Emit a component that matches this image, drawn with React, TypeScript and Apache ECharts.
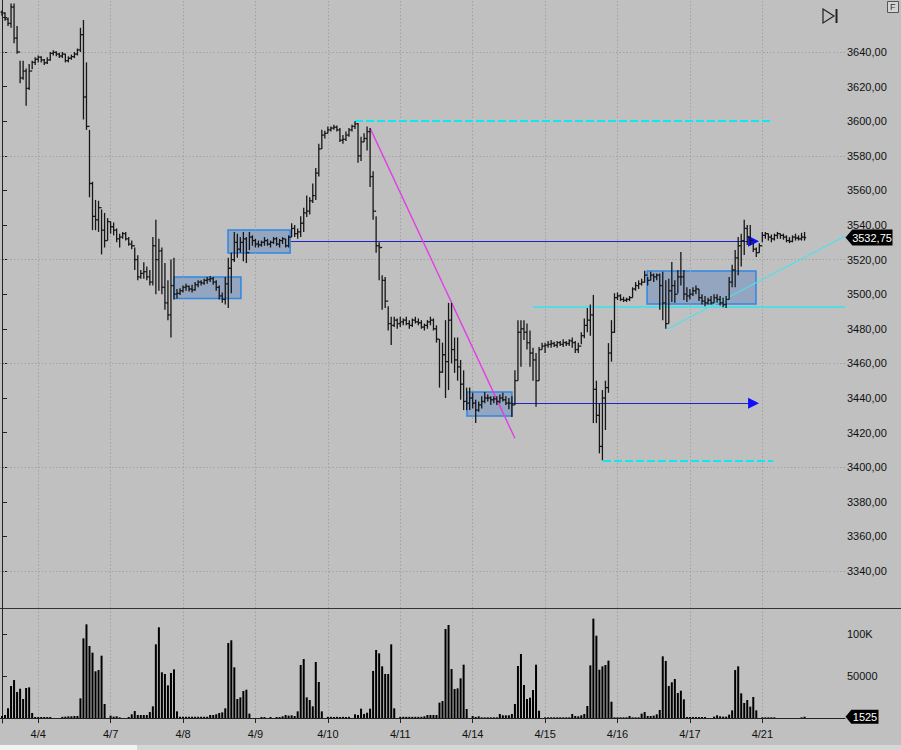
import React, { useEffect, useRef } from 'react';
import * as echarts from 'echarts';

// ---------- axis / calendar ----------
const dayLabels = ['4/4', '4/7', '4/8', '4/9', '4/10', '4/11', '4/14', '4/15', '4/16', '4/17', '4/21'];
const dayStartIndex = [12, 36, 60, 84, 108, 132, 156, 180, 204, 228, 252];
const priceLabelTicks = [3340, 3360, 3380, 3400, 3420, 3440, 3460, 3480, 3500, 3520, 3540, 3560, 3580, 3600, 3620, 3640];
const priceTickMarks = [3340, 3360, 3380, 3400, 3420, 3440, 3460, 3480, 3500, 3520, 3540, 3560, 3580, 3600, 3620, 3640, 3660];
const priceGridLevels = [3340, 3400, 3460, 3520, 3580, 3640];
const volumeTicks = [50000, 100000];
const lastPrice = 3532.75;
const lastVolume = 1525;
const firstOpen = 3663;

// ---------- hourly OHLC (open = previous close) ----------
const highs = [
  // 4/3 tail
  3664, 3663, 3660, 3668, 3668, 3655, 3635, 3635, 3630.5, 3633, 3635, 3637,
  // 4/4
  3638, 3637.5, 3636, 3637, 3640, 3641, 3640.5, 3639.5, 3640, 3639, 3637.5, 3638.5, 3640, 3642, 3654, 3658.5, 3634, 3595, 3565, 3554.5, 3554, 3549, 3547, 3544,
  // 4/7
  3542, 3541.5, 3538, 3535, 3536, 3536, 3533, 3531, 3527, 3522.5, 3514, 3518.5, 3516, 3514, 3533, 3543, 3532, 3527, 3518, 3508, 3520, 3521, 3503, 3503.5,
  // 4/8
  3505, 3506, 3505, 3505.5, 3507, 3508, 3508, 3509, 3510, 3510.5, 3510, 3508, 3505, 3501, 3510, 3521, 3524, 3536, 3535, 3533, 3536, 3533, 3536, 3534,
  // 4/9
  3532, 3531, 3531, 3533, 3532, 3531, 3533, 3533, 3532, 3533, 3532, 3534, 3541, 3540, 3538, 3545, 3550, 3557, 3556, 3564, 3573, 3587, 3595, 3594.5,
  // 4/10
  3597, 3597, 3598, 3597.5, 3596, 3592, 3594, 3596, 3598, 3600, 3599, 3591, 3593, 3597, 3596, 3571, 3545, 3530, 3511, 3510, 3493, 3487, 3487, 3486,
  // 4/11
  3487, 3486, 3487, 3485, 3486, 3487, 3486, 3485, 3483, 3485, 3487, 3486, 3482, 3474, 3472, 3485, 3495, 3495, 3475, 3475, 3462, 3456, 3446, 3446,
  // 4/14
  3443, 3439, 3438, 3441, 3443.5, 3442, 3441, 3441, 3441, 3442, 3443, 3441, 3440, 3441, 3456, 3485, 3485, 3485, 3483, 3479, 3469, 3466, 3469.5, 3472,
  // 4/15
  3472, 3473, 3473.5, 3472.5, 3473, 3473, 3474, 3473, 3474, 3475, 3473, 3472, 3478, 3486, 3492, 3494, 3499.6, 3450, 3437, 3444.6, 3450, 3471.7, 3485, 3500.6,
  // 4/16
  3501, 3500, 3498.5, 3498, 3499, 3504, 3507, 3508, 3509, 3513.6, 3510, 3513, 3512, 3512, 3512, 3513, 3508, 3509, 3518.6, 3508, 3514, 3524.4, 3514, 3504,
  // 4/17
  3503, 3504, 3505, 3503, 3500, 3499, 3498, 3499, 3500, 3500, 3499, 3498, 3499, 3510, 3517, 3525.5, 3533, 3535, 3543, 3540, 3540, 3529.4, 3527, 3529.4,
  // 4/21
  3536, 3536, 3535, 3534.5, 3535, 3536, 3535, 3535, 3534, 3533, 3534, 3535, 3534, 3535.5, 3536,
];
const lows = [
  3661, 3658, 3655, 3654, 3645, 3639, 3622, 3624, 3609, 3618, 3630, 3632.5,
  3634, 3634, 3632.5, 3633, 3635, 3638, 3637.5, 3636.5, 3636.5, 3634, 3634, 3635.5, 3636.5, 3638, 3640, 3601, 3595, 3556, 3537, 3537, 3536, 3523, 3527, 3531,
  3535, 3534, 3530, 3527, 3532, 3531, 3528, 3526, 3514, 3508, 3509, 3509, 3508, 3505, 3505, 3500, 3502, 3500, 3491, 3485, 3475, 3497, 3497.5, 3499.5,
  3501, 3502, 3501.5, 3501, 3502, 3504, 3505, 3505.5, 3506, 3507, 3505.5, 3502, 3497, 3495, 3494, 3492, 3500.5, 3518.6, 3521, 3524, 3519, 3518, 3525.5, 3528,
  3527, 3527, 3527.5, 3528, 3528, 3527, 3529, 3528, 3527, 3529, 3527, 3527, 3533, 3533, 3532, 3533, 3536, 3544.6, 3546, 3552.7, 3554.5, 3568, 3584, 3590,
  3593, 3594, 3595, 3594, 3588, 3587, 3588.5, 3591, 3594, 3595.5, 3576, 3577, 3588, 3583, 3562, 3543, 3524, 3508, 3491, 3492, 3479, 3470.6, 3481, 3480,
  3481, 3482, 3482, 3480, 3481, 3483, 3482, 3480, 3479, 3480, 3482, 3479, 3472, 3446, 3454.5, 3440, 3444.6, 3460, 3454.5, 3450, 3439, 3433, 3433, 3433,
  3434, 3425.5, 3432, 3434, 3437, 3438, 3436, 3437, 3436, 3437, 3438, 3436, 3433.5, 3429, 3436, 3450, 3458, 3473.5, 3468, 3458, 3450, 3435, 3450, 3468,
  3466, 3469, 3469, 3469.5, 3469, 3470, 3469.5, 3470, 3470, 3469, 3466, 3466, 3471, 3474.6, 3478, 3476, 3425.5, 3425.5, 3408, 3404, 3421.5, 3443, 3461, 3477.6,
  3496.6, 3496, 3495.5, 3495.5, 3496, 3498, 3502, 3503, 3505, 3506.6, 3505, 3508, 3507, 3508, 3491, 3485, 3480, 3483, 3495.5, 3495, 3500.6, 3505, 3496.6, 3495.5,
  3497, 3499, 3500, 3496, 3494, 3493, 3494, 3494, 3495, 3495, 3493.5, 3492.5, 3492, 3497, 3504, 3504, 3511, 3516, 3522.6, 3528.4, 3528.4, 3524.4, 3521.5, 3524,
  3530, 3532, 3531, 3530, 3531, 3532, 3532, 3531.5, 3530, 3529.5, 3530, 3531, 3531, 3531, 3531,
];
const closes = [
  3662.5, 3659, 3656.5, 3666, 3648, 3640, 3625, 3629, 3619, 3629, 3634, 3635.8,
  3637, 3635.4, 3633.8, 3635.4, 3639.2, 3639.8, 3638.8, 3637.7, 3638.8, 3635, 3636.4, 3637.3, 3638.8, 3641.2, 3650, 3614, 3597, 3564, 3545, 3543, 3550, 3537, 3531, 3542,
  3539, 3537, 3532, 3533, 3535, 3532, 3529, 3528, 3520, 3510, 3512, 3513, 3510, 3507, 3528, 3520, 3525, 3504, 3495, 3488, 3505, 3500, 3500.5, 3502,
  3504, 3504.5, 3503, 3502.5, 3505.5, 3507, 3506.5, 3508, 3508.5, 3509, 3507, 3504, 3499, 3497, 3506, 3515, 3520, 3530, 3526, 3530, 3532, 3524, 3533, 3531,
  3529, 3528.5, 3530, 3531, 3529, 3530, 3532, 3529, 3531, 3532, 3528, 3533, 3538, 3535, 3536, 3541, 3547, 3548, 3554, 3557, 3570, 3584, 3592, 3593,
  3595, 3596, 3596.5, 3595, 3589, 3589.5, 3592, 3595, 3597, 3598.5, 3580, 3588, 3590, 3594, 3568, 3548, 3528, 3527, 3508, 3496, 3483, 3482, 3485, 3483,
  3484, 3485, 3483, 3482, 3485, 3484, 3483.5, 3481, 3482, 3484, 3485, 3480, 3474, 3455, 3465, 3461, 3485, 3468, 3462, 3458, 3448, 3438, 3437, 3440,
  3437, 3433, 3436, 3438, 3440, 3440, 3439, 3439.5, 3438, 3440, 3439, 3437, 3437, 3436, 3450, 3478, 3480, 3478, 3472, 3466, 3462, 3450, 3468, 3470,
  3470.5, 3471, 3471.5, 3470.5, 3472, 3471, 3472, 3471.5, 3473, 3472, 3468, 3470, 3476, 3482, 3485, 3488, 3445, 3430, 3412, 3440, 3446, 3466, 3478, 3498,
  3499, 3497, 3496.5, 3497, 3498, 3503, 3505, 3506, 3507, 3511, 3508, 3511, 3510, 3511, 3505, 3495, 3483, 3502, 3505, 3500, 3510, 3510, 3500, 3499,
  3500, 3502, 3503, 3498, 3496, 3495, 3496.5, 3495, 3498, 3497, 3495, 3494, 3497, 3507, 3514, 3521, 3528, 3531, 3538, 3533, 3531, 3526, 3524, 3528,
  3534, 3535, 3533, 3532, 3534, 3535, 3534, 3533, 3531, 3530.5, 3533, 3532.5, 3532, 3533, 3532.75,
];

// ---------- hourly volume ----------
const volumes = [
  2400, 3600, 11500, 38100, 45200, 31000, 34900, 22600, 35700, 36500,
  6000, 1200, 1200, 1200, 1200, 1200, 1200, 0, 0, 0,
  1400, 1600, 2000, 2000, 2400, 2400, 23400, 94800, 111500, 85700,
  77800, 55600, 57100, 74200, 16700, 0, 2800, 1600, 2000, 800,
  0, 0, 1200, 4400, 8300, 3600, 3600, 3600, 3600, 7100,
  13900, 87700, 108000, 54400, 52400, 38900, 53600, 57900, 7900, 1500,
  1500, 1500, 1500, 1500, 1500, 1500, 1500, 1500, 1500, 3600,
  3600, 4400, 6000, 6700, 11500, 89300, 92500, 60300, 22600, 24600,
  32100, 33700, 5200, 0, 0, 0, 1200, 1200, 0, 1200,
  0, 1200, 1200, 2000, 3600, 2800, 3200, 2400, 7900, 63100,
  70200, 24600, 21400, 13900, 66700, 42900, 7900, 0, 1400, 1400,
  1200, 1400, 1200, 1400, 1200, 1400, 0, 4400, 3600, 11100,
  4800, 6300, 11100, 56000, 81000, 77000, 61500, 52400, 52400, 87700,
  11500, 0, 1400, 1400, 1400, 1400, 1400, 1400, 1400, 1400,
  2000, 3600, 3600, 3600, 3600, 18300, 20200, 106000, 110700, 58300,
  34500, 35300, 47200, 63500, 10700, 0, 2400, 1200, 2000, 800,
  800, 800, 800, 800, 800, 4800, 3200, 3200, 3200, 4800,
  16700, 61900, 76200, 39300, 22600, 24200, 33300, 63500, 8700, 0,
  800, 800, 800, 800, 800, 800, 800, 800, 800, 4800,
  2400, 2000, 3200, 4800, 14300, 62700, 118300, 98000, 57500, 61500,
  63100, 68300, 19400, 800, 800, 800, 800, 800, 2400, 800,
  800, 800, 5200, 7100, 2400, 2400, 2800, 4400, 9500, 73400,
  67900, 38100, 42500, 46400, 29800, 32500, 22200, 1200, 1200, 1200,
  1200, 1200, 1200, 1200, 0, 0, 1600, 3200, 2000, 1600,
  1600, 4000, 9100, 57100, 61500, 29400, 17900, 21400, 13500, 25000,
  9100, 0, 800, 800, 800, 800, 800, 0, 0, 0,
  0, 0, 0, 0, 0, 800, 1525,
];

// ---------- drawn annotations (bar index, price) ----------
const zoneBoxes = [
  [57.0, 3510.0, 79.2, 3497.5],
  [74.9, 3537.1, 95.5, 3523.8],
  [154.1, 3443.5, 169.0, 3429.6],
  [213.8, 3513.4, 249.9, 3494.3],
];
const arrowLevels = [
  [95.8, 3530.6],
  [169.0, 3437.0],
];
const arrowTipIndex = 250.9;
const arrowHeadIndex = 249.1;
const dashedLevels = [
  [117.0, 255.6, 3600.0],
  [199.2, 255.6, 3403.6],
];
const supportLevel = [176.0, 3492.8];
const trendUp = [[220.4, 3479.7], [279.4, 3533.5]];
const trendDown = [[122.0, 3596.0], [170.0, 3416.7]];

const X_MIN = -0.66;
const X_MAX = 279.4;
const P_MIN = 3318.61;
const P_MAX = 3670.06;
const V_MIN = -5952;
const V_MAX = 129762;

const fmtPrice = (v: number) => v.toFixed(2).replace('.', ',');
const FONT = 'Liberation Sans, Arial, sans-serif';

export default function App() {
  const ref = useRef<HTMLDivElement>(null);

  useEffect(() => {
    if (!ref.current) return;
    const chart = echarts.init(ref.current, null, { renderer: 'svg' });

    const ohlc: number[][] = highs.map((h, i) => [
      i,
      i === 0 ? firstOpen : closes[i - 1],
      h,
      lows[i],
      closes[i],
    ]);
    const volData = volumes.map((v, i) => [i, v]);

    const barColor = '#161616';
    const renderItem = (params: any, api: any) => {
      const i = api.value(0);
      const o = api.value(1);
      const h = api.value(2);
      const l = api.value(3);
      const c = api.value(4);
      const pH = api.coord([i, h]);
      const pL = api.coord([i, l]);
      const pO = api.coord([i, o]);
      const pC = api.coord([i, c]);
      const x = pH[0];
      const style = { stroke: barColor, lineWidth: 1.3 };
      let y2 = pL[1];
      if (Math.abs(y2 - pH[1]) < 2) y2 = pH[1] + 2;
      return {
        type: 'group',
        children: [
          { type: 'line', shape: { x1: x, y1: pH[1], x2: x, y2 }, style },
          { type: 'line', shape: { x1: x - 1.5, y1: pO[1], x2: x, y2: pO[1] }, style },
          { type: 'line', shape: { x1: x, y1: pC[1], x2: x + 1.6, y2: pC[1] }, style },
        ],
      };
    };

    const gridLineStyle = { color: '#a2a2a2', type: [1.5, 2], width: 1 };
    const navy = '#2222c8';
    const cyan = '#10e8f0';

    const gridItems = [
      ...dayStartIndex.map((d) => [
        { coord: [d, P_MIN], lineStyle: gridLineStyle },
        { coord: [d, P_MAX] },
      ]),
      ...priceGridLevels.map((p) => [
        { coord: [X_MIN, p], lineStyle: gridLineStyle },
        { coord: [X_MAX, p] },
      ]),
    ];
    const volGridItems = dayStartIndex.map((d) => [
      { coord: [d, 0], lineStyle: gridLineStyle },
      { coord: [d, V_MAX] },
    ]);

    const option: any = {
      animation: false,
      backgroundColor: '#c0c0c0',
      grid: [
        { left: 0, top: 0, width: 845, height: 608 },
        { left: 0, top: 609, width: 845, height: 114 },
      ],
      xAxis: [
        { type: 'value', gridIndex: 0, min: X_MIN, max: X_MAX, show: false },
        {
          type: 'value',
          gridIndex: 1,
          min: X_MIN,
          max: X_MAX,
          position: 'bottom',
          axisLine: { show: true, lineStyle: { color: '#222', width: 1 } },
          axisTick: { show: true, customValues: dayStartIndex, length: 5, lineStyle: { color: '#222' } },
          axisLabel: {
            show: true,
            customValues: dayStartIndex,
            formatter: (v: number) => dayLabels[dayStartIndex.indexOf(Math.round(v))] || '',
            fontSize: 11,
            color: '#111',
            fontFamily: FONT,
            margin: 5,
          },
          splitLine: { show: false },
        },
      ],
      yAxis: [
        {
          type: 'value',
          gridIndex: 0,
          min: P_MIN,
          max: P_MAX,
          position: 'right',
          axisLine: { show: true, lineStyle: { color: '#222', width: 1 } },
          axisTick: { show: true, customValues: priceTickMarks, length: 5, lineStyle: { color: '#222' } },
          axisLabel: {
            show: true,
            customValues: priceLabelTicks,
            formatter: (v: number) => fmtPrice(v),
            fontSize: 11,
            color: '#111',
            fontFamily: FONT,
            margin: 2,
          },
          splitLine: { show: false },
        },
        {
          type: 'value',
          gridIndex: 1,
          min: V_MIN,
          max: V_MAX,
          position: 'right',
          axisLine: { show: true, lineStyle: { color: '#222', width: 1 } },
          axisTick: { show: true, customValues: volumeTicks, length: 5, lineStyle: { color: '#222' } },
          axisLabel: {
            show: true,
            customValues: volumeTicks,
            formatter: (v: number) => (v >= 100000 ? '100K' : String(v)),
            fontSize: 11,
            color: '#111',
            fontFamily: FONT,
            margin: 2,
          },
          splitLine: { show: false },
        },
      ],
      series: [
        {
          type: 'line',
          name: 'priceGrid',
          xAxisIndex: 0,
          yAxisIndex: 0,
          data: [],
          symbol: 'none',
          silent: true,
          markLine: {
            silent: true,
            symbol: ['none', 'none'],
            label: { show: false },
            data: gridItems,
          },
        },
        {
          type: 'line',
          name: 'volumeGrid',
          xAxisIndex: 1,
          yAxisIndex: 1,
          data: [],
          symbol: 'none',
          silent: true,
          markLine: {
            silent: true,
            symbol: ['none', 'none'],
            label: { show: false },
            data: volGridItems,
          },
        },
        {
          type: 'custom',
          name: 'price',
          xAxisIndex: 0,
          yAxisIndex: 0,
          z: 6,
          clip: false,
          renderItem,
          encode: { x: 0, y: [2, 3] },
          data: ohlc,
          silent: true,
        },
        {
          type: 'line',
          name: 'drawings',
          xAxisIndex: 0,
          yAxisIndex: 0,
          data: [],
          symbol: 'none',
          silent: true,
          z: 7,
          markArea: {
            silent: true,
            itemStyle: { color: 'rgba(56,108,190,0.32)', borderColor: '#2f86e4', borderWidth: 1.5 },
            label: { show: false },
            data: zoneBoxes.map((b) => [{ coord: [b[0], b[1]] }, { coord: [b[2], b[3]] }]),
          },
          markLine: {
            silent: true,
            symbol: ['none', 'none'],
            label: { show: false },
            data: [
              ...arrowLevels.map((a) => [
                { coord: [a[0], a[1]], lineStyle: { color: navy, width: 1.2, type: 'solid' } },
                { coord: [arrowTipIndex - 1, a[1]] },
              ]),
              ...dashedLevels.map((d) => [
                { coord: [d[0], d[2]], lineStyle: { color: cyan, width: 2, type: [8, 3] } },
                { coord: [d[1], d[2]] },
              ]),
              [
                { coord: [supportLevel[0], supportLevel[1]], lineStyle: { color: '#30e6ee', width: 1.5, type: 'solid' } },
                { coord: [X_MAX, supportLevel[1]] },
              ],
              [
                { coord: trendUp[0], lineStyle: { color: '#4ee0ee', width: 1.1, type: 'solid' } },
                { coord: trendUp[1] },
              ],
              [
                { coord: trendDown[0], lineStyle: { color: '#e040e4', width: 1.4, type: 'solid' } },
                { coord: trendDown[1] },
              ],
            ],
          },
          markPoint: {
            silent: true,
            data: [
              ...arrowLevels.map((a) => ({
                coord: [arrowHeadIndex, a[1]],
                symbol: 'triangle',
                symbolRotate: -90,
                symbolSize: [11, 11],
                itemStyle: { color: '#0f0fff' },
                label: { show: false },
              })),
              {
                coord: [X_MAX, lastPrice],
                symbol: 'path://M0,8L7,0L48,0L48,16L7,16Z',
                symbolKeepAspect: false,
                symbolSize: [47, 16],
                symbolOffset: [24, 0],
                itemStyle: { color: '#000' },
                label: {
                  show: true,
                  position: 'inside',
                  offset: [3, 0],
                  formatter: fmtPrice(lastPrice),
                  color: '#fff',
                  fontSize: 11,
                  fontFamily: FONT,
                },
              },
            ],
          },
        },
        {
          type: 'bar',
          name: 'volume',
          xAxisIndex: 1,
          yAxisIndex: 1,
          data: volData,
          barWidth: 2,
          itemStyle: { color: '#000' },
          silent: true,
          z: 6,
          markPoint: {
            silent: true,
            data: [
              {
                coord: [X_MAX, lastVolume],
                symbol: 'path://M0,7L6,0L34,0L34,14L6,14Z',
                symbolKeepAspect: false,
                symbolSize: [33, 14],
                symbolOffset: [17, 0],
                itemStyle: { color: '#000' },
                label: {
                  show: true,
                  position: 'inside',
                  offset: [3, 0],
                  formatter: String(lastVolume),
                  color: '#fff',
                  fontSize: 11,
                  fontFamily: FONT,
                },
              },
            ],
          },
        },
      ],
      graphic: [
        { type: 'line', shape: { x1: 0, y1: 608.5, x2: 901, y2: 608.5 }, style: { stroke: '#333', lineWidth: 1 }, silent: true },
        { type: 'rect', shape: { x: 0, y: 745, width: 901, height: 5 }, style: { fill: '#d6d6d6' }, silent: true },
        { type: 'rect', shape: { x: 0, y: 745, width: 137, height: 5 }, style: { fill: '#f2f2f2' }, silent: true },
        { type: 'polygon', shape: { points: [[823, 9], [834, 16], [823, 23]] }, style: { fill: 'none', stroke: '#222', lineWidth: 1.2 }, silent: true },
        { type: 'line', shape: { x1: 836.5, y1: 9, x2: 836.5, y2: 23 }, style: { stroke: '#222', lineWidth: 2 }, silent: true },
        { type: 'rect', shape: { x: 887.5, y: 1.5, width: 11, height: 11 }, style: { fill: '#d4d4d4', stroke: '#555', lineWidth: 1 }, silent: true },
        { type: 'text', x: 890, y: 2.5, style: { text: 'F', fill: '#333', fontSize: 9, fontFamily: FONT }, silent: true },
      ],
    };

    chart.setOption(option);
    return () => chart.dispose();
  }, []);

  return (
    <div
      ref={ref}
      style={{ position: 'absolute', left: 0, top: 0, width: 901, height: 750, background: '#c0c0c0' }}
    />
  );
}
